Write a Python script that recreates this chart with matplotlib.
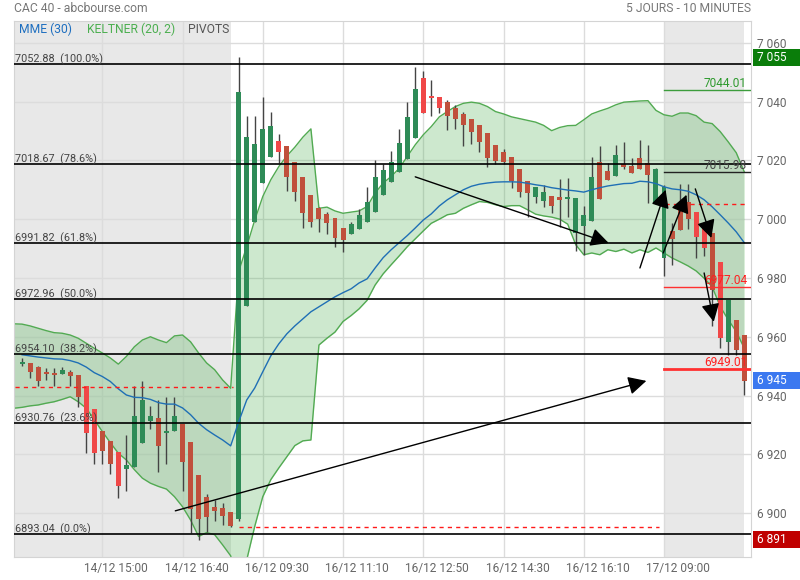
import numpy as np
import matplotlib
matplotlib.use("Agg")
import matplotlib.pyplot as plt
from matplotlib.patches import Rectangle
from matplotlib.transforms import blended_transform_factory
from matplotlib.ticker import FuncFormatter, FixedLocator

plt.rcParams['font.family'] = ['Roboto', 'DejaVu Sans']

# 10 minute candles, index 0 = 14/12 13:20 ; 14/12 -> 0..26, 16/12 -> 27..79, 17/12 -> 80..90
opens = [6950.8, 6951.2, 6949.8, 6947.8, 6947.6, 6947.3, 6948.0, 6947.1, 6943.1, 6935.4,
         6928.0, 6924.6, 6920.7, 6915.0, 6915.6, 6924.0, 6931.2, 6932.3, 6927.4, 6927.8,
         6930.4, 6924.1, 6913.0, 6905.4, 6902.0, 6901.7, 6900.4,
         6898.0, 6970.5, 6999.2, 7012.3, 7021.3, 7026.7, 7024.9, 7019.4, 7014.3, 7008.1,
         7003.7, 7001.7, 7000.3, 6996.9, 6995.0, 6996.6, 6999.0, 7002.4, 7008.1, 7012.6,
         7016.0, 7020.5, 7027.6, 7036.0, 7041.9, 7041.5, 7039.8, 7037.7, 7035.8, 7034.1,
         7032.1, 7029.3, 7025.3, 7022.8, 7021.1, 7017.0, 7013.1, 7010.9, 7009.2, 7008.0,
         7006.6, 7006.8, 7007.2, 7001.5, 6999.5, 7006.8, 7013.2, 7014.6, 7018.5, 7018.2,
         7017.0, 7019.0, 7017.0,
         7010.9, 6996.1, 6996.2, 7000.1, 7002.6, 6998.6, 6995.3, 6985.4, 6972.6, 6965.8, 6960.6]
highs = [6952.9, 6951.2, 6949.9, 6949.4, 6949.4, 6949.8, 6948.8, 6947.1, 6943.1, 6935.4,
         6928.0, 6924.6, 6920.7, 6926.6, 6943.1, 6944.8, 6936.3, 6938.5, 6939.4, 6939.4,
         6930.4, 6924.1, 6913.0, 6906.6, 6904.5, 6903.6, 6900.4,
         7055.2, 7035.0, 7035.0, 7041.7, 7036.6, 7029.0, 7024.9, 7019.4, 7014.3, 7008.1,
         7004.3, 7002.6, 7000.3, 6996.9, 6999.1, 7003.4, 7011.1, 7020.2, 7018.7, 7023.2,
         7030.8, 7039.8, 7051.9, 7050.4, 7047.4, 7041.5, 7040.4, 7038.9, 7036.4, 7034.1,
         7032.1, 7029.3, 7025.3, 7023.9, 7021.1, 7017.0, 7013.1, 7010.9, 7011.7, 7008.0,
         7013.8, 7014.0, 7007.2, 7004.6, 7021.3, 7024.9, 7019.0, 7025.3, 7026.4, 7020.7,
         7027.0, 7025.3, 7017.5,
         7011.6, 6998.6, 7011.9, 7011.9, 7002.6, 6998.6, 6995.3, 6985.4, 6972.6, 6965.8, 6960.6]
lows = [6950.1, 6946.0, 6943.3, 6945.3, 6943.4, 6947.3, 6943.4, 6936.2, 6920.4, 6916.7,
        6916.7, 6913.3, 6905.1, 6907.6, 6915.6, 6924.0, 6928.7, 6914.0, 6916.6, 6927.8,
        6907.6, 6893.4, 6891.0, 6893.7, 6897.3, 6896.1, 6895.3,
        6897.5, 6970.5, 6999.2, 7012.3, 7021.3, 7019.0, 7009.7, 7006.3, 6996.9, 6997.2,
        6995.8, 6995.1, 6990.4, 6988.7, 6995.0, 6996.6, 6999.0, 7002.4, 7008.1, 7012.6,
        7016.0, 7020.5, 7027.6, 7036.0, 7035.0, 7036.0, 7030.2, 7030.8, 7025.0, 7025.5,
        7023.0, 7017.9, 7018.8, 7018.8, 7010.6, 7007.4, 7000.9, 7005.5, 7004.3, 7002.0,
        6997.5, 7000.9, 6989.3, 6987.9, 6999.5, 7006.8, 7013.2, 7014.6, 7017.0, 7015.6,
        7017.0, 7005.5, 7005.1,
        6980.8, 6984.5, 6996.2, 6996.8, 6986.7, 6987.5, 6963.8, 6956.1, 6953.9, 6953.9, 6940.2]
closes = [6951.5, 6948.1, 6945.0, 6947.3, 6947.1, 6948.8, 6946.5, 6939.4, 6927.2, 6920.4,
          6921.2, 6916.6, 6909.4, 6916.4, 6933.1, 6938.5, 6933.1, 6923.0, 6928.1, 6933.1,
          6917.5, 6901.3, 6897.9, 6898.6, 6900.9, 6899.2, 6895.6,
          7043.3, 7027.9, 7025.6, 7030.8, 7031.8, 7023.0, 7014.2, 7009.1, 7002.0, 6999.0,
          7000.0, 6998.6, 6993.6, 6992.8, 6998.4, 7001.5, 7005.8, 7014.3, 7016.7, 7019.4,
          7025.9, 7034.8, 7044.2, 7048.0, 7041.2, 7037.9, 7035.2, 7034.1, 7031.9, 7029.5,
          7026.4, 7020.9, 7019.9, 7019.4, 7013.1, 7009.1, 7008.9, 7007.5, 7006.3, 7004.6,
          7007.6, 7007.6, 6995.3, 6997.8, 7014.3, 7019.4, 7016.4, 7021.9, 7017.9, 7015.6,
          7020.7, 7014.9, 7005.2,
          6986.7, 6993.3, 7004.9, 7005.7, 6994.1, 6990.2, 6975.9, 6959.5, 6958.3, 6955.6, 6944.9]
# g = up, r = down, R = down (bright)
candle_kind = ("grrrrgrrRRrrRggggrggrrrrrrr"
               "gggggRrrrrrrrrgggggggggRRRrrrrrrrrrrrggrrggggrrgrr"
               "rrggrrrRRrR")

# Keltner (20, 2) bands and MME (30); bands start one step left of candle 0
kelt_upper = [6964.4, 6964.3, 6963.7, 6962.9, 6962.1, 6961.4, 6961.2, 6960.6, 6959.5, 6957.8,
              6956.1, 6954.5, 6952.8, 6950.7, 6953.3, 6956.6, 6958.9, 6960.0, 6958.9, 6958.0,
              6960.3, 6960.6, 6958.3, 6954.5, 6951.1, 6948.8, 6945.3, 6942.5,
              6982.2, 6990.7, 6999.7, 7007.7, 7013.4, 7017.9, 7021.5, 7024.5, 7027.9, 7030.7,
              7003.7, 7004.1, 7002.8, 7002.0, 7002.4, 7002.8, 7004.3, 7008.9, 7012.3, 7014.5,
              7017.3, 7021.3, 7025.3, 7028.7, 7031.5, 7034.8, 7036.6, 7038.3, 7039.4, 7039.8,
              7039.4, 7038.3, 7036.6, 7035.8, 7034.8, 7034.2, 7033.6, 7033.0, 7031.9, 7030.1,
              7031.2, 7031.8, 7031.9, 7033.8, 7035.8, 7036.8, 7037.7, 7038.9, 7039.8, 7040.0,
              7040.2, 7040.3, 7037.0,
              7035.5, 7035.0, 7036.1, 7036.1, 7035.2, 7033.0, 7032.5, 7029.8, 7026.3, 7022.6, 7016.1]
kelt_lower = [6935.7, 6936.0, 6936.5, 6936.8, 6937.4, 6937.9, 6938.7, 6939.6, 6937.9, 6935.7,
              6931.8, 6927.8, 6924.0, 6920.4, 6918.1, 6914.8, 6911.9, 6910.2, 6909.1, 6908.2,
              6905.6, 6902.2, 6897.7, 6892.1, 6893.4, 6892.7, 6889.2, 6885.5,
              6876.3, 6884.1, 6895.5, 6905.6, 6911.4, 6915.4, 6919.2, 6923.0, 6924.6, 6924.9,
              6957.2, 6959.5, 6961.6, 6965.2, 6967.2, 6969.5, 6972.4, 6977.6, 6981.4, 6984.5,
              6987.5, 6990.6, 6993.3, 6996.0, 6998.6, 7000.0, 7001.5, 7002.0, 7003.7, 7004.9,
              7006.0, 7005.7, 7004.9, 7004.3, 7004.6, 7004.6, 7003.2, 7001.7, 7001.1, 7000.7,
              7000.0, 6998.3, 6991.3, 6987.9, 6988.5, 6987.9, 6989.6, 6989.0, 6989.8, 6988.5,
              6989.6, 6988.7, 6990.2,
              6988.5, 6986.8, 6985.5, 6984.1, 6982.4, 6979.9, 6977.0, 6970.3, 6965.8, 6961.8, 6956.1]
mme30 = [6953.9, 6953.5, 6953.1, 6952.8, 6952.5, 6952.4, 6951.9, 6951.1, 6949.7, 6947.8,
         6946.5, 6944.8, 6942.3, 6940.2, 6939.4, 6939.3, 6938.7, 6937.6, 6937.1, 6937.1,
         6935.8, 6933.5, 6930.6, 6928.4, 6926.6, 6924.9, 6922.9,
         6931.1, 6938.5, 6942.6, 6948.1, 6953.5, 6957.6, 6961.0, 6963.7, 6966.1, 6968.5,
         6970.2, 6971.9, 6973.6, 6975.0, 6976.3, 6978.3, 6979.7, 6983.4, 6986.9, 6989.6,
         6992.0, 6994.4, 6997.0, 6999.7, 7001.8, 7004.5, 7006.6, 7008.3, 7010.0, 7011.2,
         7011.9, 7012.3, 7012.6, 7012.7, 7012.7, 7012.6, 7012.2, 7011.7, 7011.3, 7010.7,
         7010.3, 7009.9, 7009.6, 7009.2, 7010.0, 7010.7, 7011.3, 7011.7, 7012.1, 7012.2,
         7012.9, 7012.7, 7012.1,
         7011.0, 7010.3, 7010.0, 7009.5, 7008.3, 7006.6, 7004.2, 7001.5, 6998.7, 6995.7, 6992.0]

# sessions (first / last candle) and previous close of each session
day_first = [-1, 27, 80]
day_last = [26, 79, 90]
prev_close = [6942.9, 6895.4, 7005.2]

fib_levels = [7052.88, 7018.67, 6991.82, 6972.96, 6954.10, 6930.76, 6893.04]
fib_pct = [100.0, 78.6, 61.8, 50.0, 38.2, 23.6, 0.0]

pivot_levels = [7044.01, 7015.98, 6977.04, 6949.01]
pivot_colors = ['#3c9c3c', '#222222', '#ff3030', '#ff3030']
pivot_text_colors = ['#2e9a2e', '#444444', '#ff2020', '#ff2020']
pivot_widths = [1, 1, 1, 2]

# hand drawn arrows: (candle, price) start -> end
arrows = [((19.1, 6900.8), (77.8, 6945.0)),
          ((49.0, 7014.4), (73.1, 6991.9)),
          ((77.0, 6983.4), (80.2, 7010.0)),
          ((79.9, 6988.5), (82.8, 7008.3)),
          ((83.9, 7010.3), (85.9, 6993.6)),
          ((85.0, 6981.7), (86.2, 6965.1))]

x_grid = [10, 20, 30, 40, 50, 60, 70, 80]
x_labels = ["14/12 15:00", "14/12 16:40", "16/12 09:30", "16/12 11:10",
            "16/12 12:50", "16/12 14:30", "16/12 16:10", "17/12 09:00"]

box_values = [7055, 6945, 6891]
box_colors = ['#0a7d0a', '#3b78f0', '#c00000']

W, H = 800, 580
fig = plt.figure(figsize=(W / 100, H / 100), dpi=100)
ax = fig.add_axes([14 / W, 23.3 / H, 737 / W, 535.7 / H])
ax.set_xlim(-1, 90.84)
ax.set_ylim(6885.2, 7067.4)

# session shading
ax.axvspan(-5, day_last[0], color='#e8e8e8', lw=0, zorder=0.2)
ax.axvspan(day_first[2], day_last[2], color='#e8e8e8', lw=0, zorder=0.2)

# grid
ax.set_yticks(np.arange(6900, 7061, 20))
ax.xaxis.set_major_locator(FixedLocator(x_grid))
ax.xaxis.set_minor_locator(FixedLocator([g + 1.75 for g in x_grid]))
ax.xaxis.set_major_formatter(FuncFormatter(lambda v, p: ""))
ax.xaxis.set_minor_formatter(FuncFormatter(lambda v, p: x_labels[p] if p < len(x_labels) else ""))
ax.grid(True, which='major', color='#dcdcdc', lw=1)
ax.set_axisbelow(True)
ax.tick_params(axis='x', which='both', length=0, labelsize=8.6, labelcolor='#666666', pad=4)
ax.yaxis.tick_right()
ax.yaxis.set_major_formatter(FuncFormatter(lambda v, p: f"{int(v):,}".replace(",", " ")))
ax.tick_params(axis='y', length=0, labelsize=8.6, labelcolor='#666666', pad=4)
for s in ax.spines.values():
    s.set_color('#d4d4d4')

# keltner channel
band_x = np.arange(-1, len(kelt_upper) - 1)
ax.fill_between(band_x, kelt_lower, kelt_upper, color='#4caf50', alpha=0.28, lw=0, zorder=1)
ax.plot(band_x, kelt_upper, color='#52aa52', lw=1, zorder=1.5)
ax.plot(band_x, kelt_lower, color='#52aa52', lw=1, zorder=1.5)

# candles
idx = np.arange(len(opens))
o = np.array(opens); c = np.array(closes)
ax.vlines(idx, lows, highs, color='#444444', lw=1, zorder=2)
col_map = {'g': '#2e8b57', 'r': '#c0503c', 'R': '#f04848'}
bottoms = np.minimum(o, c)
heights = np.maximum(np.abs(c - o), 0.7)
ax.bar(idx, heights, bottom=bottoms, width=0.62,
       color=[col_map[k] for k in candle_kind], lw=0, zorder=3)

# MME 30
ax.plot(np.arange(len(mme30)), mme30, color='#1f6fb5', lw=1, zorder=4)

# previous close per session
for a, b, v in zip(day_first, day_last, prev_close):
    ax.plot([a + 0.1, b + 0.35], [v, v], color='#ff1a1a', lw=1, ls=(0, (3, 3)), zorder=4)

# fibonacci retracements
for lv, pc in zip(fib_levels, fib_pct):
    ax.axhline(lv, color='black', lw=1.2, zorder=5)
    ax.text(-0.9, lv + 0.5, f"{lv:.2f}  ({pc:.1f}%)", fontsize=7.8, color='#444444',
            ha='left', va='baseline', zorder=6)

# pivots on the last session
for lv, lc, tc, lw in zip(pivot_levels, pivot_colors, pivot_text_colors, pivot_widths):
    ax.plot([day_first[2], 90.84], [lv, lv], color=lc, lw=lw, zorder=5)
    ax.text(90.35, lv + 1.0, f"{lv:.2f}", fontsize=8.6, color=tc, ha='right', va='baseline', zorder=6)

# arrows
for (x0, y0), (x1, y1) in arrows:
    ax.annotate("", xy=(x1, y1), xytext=(x0, y0),
                arrowprops=dict(arrowstyle='-|>,head_length=0.55,head_width=0.28', color='black',
                                lw=1, shrinkA=0, shrinkB=0, mutation_scale=20), zorder=7)

# value boxes on the right axis
tr = blended_transform_factory(fig.transFigure, ax.transData)
for v, bc in zip(box_values, box_colors):
    ax.add_patch(Rectangle((753 / W, v - 2.9), 47 / W, 5.8, transform=tr,
                           facecolor=bc, edgecolor='none', clip_on=False, zorder=10))
    ax.text(757 / W, v, f"{v:,}".replace(",", " "), transform=tr, color='white',
            fontsize=8.6, ha='left', va='center', zorder=11, clip_on=False)

# legend row inside the plot
fig.text(19 / W, 1 - 29.5 / H, "MME (30)", color='#1e6fc0', fontsize=8.7, va='center')
fig.text(87 / W, 1 - 29.5 / H, "KELTNER (20, 2)", color='#4caf50', fontsize=8.7, va='center')
fig.text(188 / W, 1 - 29.5 / H, "PIVOTS", color='#555555', fontsize=8.7, va='center')

# header
fig.text(14 / W, 1 - 8.5 / H, "CAC 40 - abcbourse.com", color='#777777', fontsize=8.7, va='center')
fig.text(751 / W, 1 - 8.5 / H, "5 JOURS - 10 MINUTES", color='#777777', fontsize=8.7,
         va='center', ha='right')

fig.savefig("out.png", dpi=100)
